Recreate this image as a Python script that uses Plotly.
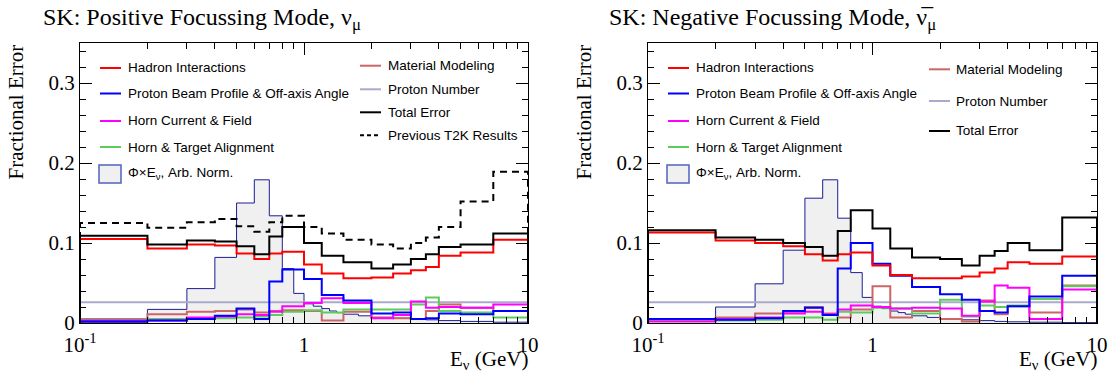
import plotly.graph_objects as go

# ---------------- data ----------------
EDGES = [0.1, 0.2, 0.3, 0.4, 0.5, 0.6, 0.7, 0.8, 1.0, 1.2, 1.5, 2.0, 2.5, 3.0, 3.5, 4.0, 5.0, 7.0, 10.0]
FLUX_EDGES = [0.1, 0.2, 0.3, 0.4, 0.5, 0.6, 0.7, 0.8, 0.9, 1.0, 1.1, 1.2, 1.3, 1.4, 1.5, 1.75, 2.0,
              2.5, 3.0, 3.5, 4.0, 5.0, 7.0, 10.0]

# Positive focussing mode (nu_mu)
POS_HADRON = [0.105, 0.093, 0.098, 0.097, 0.087, 0.080, 0.087, 0.089, 0.073, 0.062, 0.056, 0.057, 0.062, 0.066, 0.070, 0.084, 0.088, 0.104]
POS_BEAM = [0.002, 0.003, 0.005, 0.009, 0.018, 0.005, 0.052, 0.067, 0.055, 0.035, 0.028, 0.012, 0.013, 0.005, 0.006, 0.012, 0.011, 0.015]
POS_HORN = [0.003, 0.003, 0.007, 0.008, 0.011, 0.010, 0.014, 0.021, 0.025, 0.031, 0.025, 0.006, 0.010, 0.027, 0.019, 0.020, 0.019, 0.023]
POS_ALIGN = [0.004, 0.005, 0.006, 0.006, 0.007, 0.008, 0.010, 0.014, 0.016, 0.013, 0.017, 0.017, 0.017, 0.023, 0.032, 0.015, 0.013, 0.007]
POS_MATERIAL = [0.005, 0.011, 0.014, 0.015, 0.017, 0.013, 0.015, 0.016, 0.015, 0.003, 0.014, 0.007, 0.006, 0.005, 0.015, 0.023, 0.019, 0.015]
POS_PROTON = [0.026, 0.026, 0.026, 0.026, 0.026, 0.026, 0.026, 0.026, 0.026, 0.026, 0.026, 0.026, 0.026, 0.026, 0.026, 0.026, 0.026, 0.026]
POS_TOTAL = [0.109, 0.098, 0.103, 0.102, 0.096, 0.086, 0.108, 0.120, 0.100, 0.084, 0.076, 0.068, 0.073, 0.080, 0.086, 0.095, 0.098, 0.112]
POS_PREVIOUS = [0.125, 0.119, 0.126, 0.130, 0.121, 0.114, 0.126, 0.134, 0.120, 0.112, 0.104, 0.098, 0.093, 0.100, 0.107, 0.120, 0.152, 0.189]
POS_FLUX = [0.001, 0.017, 0.043, 0.082, 0.150, 0.179, 0.134, 0.068, 0.037, 0.024, 0.021, 0.018, 0.015, 0.013, 0.011,
            0.009, 0.007, 0.006, 0.005, 0.004, 0.003, 0.002, 0.001]

# Negative focussing mode (anti nu_mu)
NEG_HADRON = [0.113, 0.103, 0.100, 0.096, 0.086, 0.078, 0.086, 0.088, 0.072, 0.060, 0.056, 0.056, 0.058, 0.063, 0.068, 0.076, 0.074, 0.083]
NEG_BEAM = [0.005, 0.004, 0.006, 0.015, 0.019, 0.010, 0.068, 0.100, 0.074, 0.059, 0.045, 0.036, 0.029, 0.015, 0.013, 0.021, 0.033, 0.059]
NEG_HORN = [0.002, 0.005, 0.007, 0.012, 0.014, 0.011, 0.017, 0.022, 0.020, 0.018, 0.019, 0.018, 0.009, 0.027, 0.047, 0.044, 0.005, 0.042]
NEG_ALIGN = [0.004, 0.003, 0.004, 0.007, 0.007, 0.004, 0.014, 0.013, 0.019, 0.018, 0.012, 0.029, 0.008, 0.022, 0.020, 0.022, 0.030, 0.046]
NEG_MATERIAL = [0.003, 0.007, 0.012, 0.014, 0.020, 0.012, 0.007, 0.017, 0.046, 0.007, 0.015, 0.005, 0.002, 0.028, 0.011, 0.021, 0.013, 0.047]
NEG_PROTON = [0.026, 0.026, 0.026, 0.026, 0.026, 0.026, 0.026, 0.026, 0.026, 0.026, 0.026, 0.026, 0.026, 0.026, 0.026, 0.026, 0.026, 0.026]
NEG_TOTAL = [0.116, 0.107, 0.104, 0.100, 0.095, 0.084, 0.115, 0.141, 0.118, 0.093, 0.082, 0.080, 0.072, 0.084, 0.090, 0.100, 0.091, 0.132]
NEG_FLUX = [0.005, 0.020, 0.049, 0.091, 0.156, 0.179, 0.131, 0.063, 0.032, 0.021, 0.018, 0.015, 0.013, 0.011, 0.009,
            0.007, 0.005, 0.004, 0.003, 0.002, 0.0015, 0.001, 0.0005]

X_TICKS = [0.1, 1, 10]
X_TICK_TEXT = ["10<sup>-1</sup>", "1", "10"]
X_MINOR = [0.2, 0.3, 0.4, 0.5, 0.6, 0.7, 0.8, 0.9, 2, 3, 4, 5, 6, 7, 8, 9]
Y_TICKS = [0, 0.1, 0.2, 0.3]
Y_TICK_TEXT = ["0", "0.1", "0.2", "0.3"]

TITLES = ["SK: Positive Focussing Mode, ν<sub>μ</sub>", "SK: Negative Focussing Mode, ν\u0305<sub>μ</sub>"]

# ---------------- style ----------------
W, H = 1110, 377
C_HADRON = "#ff0000"
C_BEAM = "#0000ff"
C_HORN = "#ff00ff"
C_ALIGN = "#5ccc5c"
C_MAT = "#cc6666"
C_PROTON = "#aaaacc"
C_TOTAL = "#000000"
C_FLUXLINE = "#1c1c96"
C_FLUXFILL = "#f0f0f0"
SERIF = "Liberation Serif, Times New Roman, serif"
SANS = "Liberation Sans, Arial, sans-serif"
LEG_SIZE = 13.5

PANEL_X = [(80, 528), (648, 1097)]
PLOT_TOP, PLOT_BOT = 43, 323


def px(x):
    return x / W


def py(y):
    return 1 - y / H


def step(edges, vals):
    xs = [edges[0]] + list(edges) + [edges[-1]]
    ys = [0] + list(vals) + [vals[-1], 0]
    return xs, ys


fig = go.Figure()

panels = [
    dict(flux=POS_FLUX, series=[
        (POS_PROTON, C_PROTON, "solid"), (POS_MATERIAL, C_MAT, "solid"), (POS_ALIGN, C_ALIGN, "solid"),
        (POS_HORN, C_HORN, "solid"), (POS_BEAM, C_BEAM, "solid"), (POS_HADRON, C_HADRON, "solid"),
        (POS_TOTAL, C_TOTAL, "solid"), (POS_PREVIOUS, C_TOTAL, "dash")]),
    dict(flux=NEG_FLUX, series=[
        (NEG_PROTON, C_PROTON, "solid"), (NEG_MATERIAL, C_MAT, "solid"), (NEG_ALIGN, C_ALIGN, "solid"),
        (NEG_HORN, C_HORN, "solid"), (NEG_BEAM, C_BEAM, "solid"), (NEG_HADRON, C_HADRON, "solid"),
        (NEG_TOTAL, C_TOTAL, "solid")]),
]

for i, p in enumerate(panels):
    xa = "x" if i == 0 else "x2"
    ya = "y" if i == 0 else "y2"
    fx, fy = step(FLUX_EDGES, p["flux"])
    fig.add_trace(go.Scatter(x=fx, y=fy, mode="lines", line=dict(shape="hv", color=C_FLUXLINE, width=1),
                             fill="tozeroy", fillcolor=C_FLUXFILL, xaxis=xa, yaxis=ya, showlegend=False,
                             hoverinfo="skip"))
    for vals, col, dash in p["series"]:
        sx, sy = step(EDGES, vals)
        fig.add_trace(go.Scatter(x=sx, y=sy, mode="lines",
                                 line=dict(shape="hv", color=col, width=2, dash=("7px,5px" if dash == "dash" else "solid")),
                                 xaxis=xa, yaxis=ya, showlegend=False, hoverinfo="skip"))

common_x = dict(type="log", range=[-1, 1], showline=True, mirror="allticks", linecolor="black", linewidth=1,
                ticks="inside", ticklen=12, tickwidth=1, tickcolor="black", tickmode="array",
                tickvals=X_TICKS, ticktext=X_TICK_TEXT, tickfont=dict(family=SERIF, size=21, color="black"),
                ticklabelstandoff=3,
                minor=dict(ticks="inside", ticklen=6, tickwidth=1, tickcolor="black", tickmode="array",
                           tickvals=X_MINOR, showgrid=False),
                showgrid=False, zeroline=False, fixedrange=True, automargin=False)
common_y = dict(range=[0, 0.35], showline=True, mirror="allticks", linecolor="black", linewidth=1,
                ticks="inside", ticklen=12, tickwidth=1, tickcolor="black", tickmode="array",
                tickvals=Y_TICKS, ticktext=Y_TICK_TEXT, tickfont=dict(family=SERIF, size=21, color="black"),
                minor=dict(ticks="inside", ticklen=6, tickwidth=1, tickcolor="black", dtick=0.02, tick0=0,
                           showgrid=False),
                showgrid=False, zeroline=False, fixedrange=True, automargin=False,
                domain=[py(PLOT_BOT), py(PLOT_TOP)])

fig.update_layout(
    xaxis=dict(common_x, domain=[px(PANEL_X[0][0]), px(PANEL_X[0][1])], anchor="y"),
    yaxis=dict(common_y, anchor="x"),
    xaxis2=dict(common_x, domain=[px(PANEL_X[1][0]), px(PANEL_X[1][1])], anchor="y2"),
    yaxis2=dict(common_y, anchor="x2"),
)

annotations = []
shapes = []

# titles / axis titles
title_x = [41, 607]
for i in range(2):
    x0, x1 = PANEL_X[i]
    annotations.append(dict(text=TITLES[i], x=px(title_x[i]), y=py(19), xref="paper", yref="paper",
                            xanchor="left", yanchor="middle", showarrow=False,
                            font=dict(family=SERIF, size=24, color="black")))
    annotations.append(dict(text="E<sub>ν</sub> (GeV)", x=px(x1 + 2), y=py(360), xref="paper", yref="paper",
                            xanchor="right", yanchor="middle", showarrow=False,
                            font=dict(family=SERIF, size=21, color="black")))
    annotations.append(dict(text="Fractional Error", x=px(x0 - 64), y=py(PLOT_TOP), xref="paper", yref="paper",
                            xanchor="center", yanchor="top", textangle=-90, showarrow=False,
                            font=dict(family=SERIF, size=21, color="black")))

# legends
LEG = [
    dict(col1=(100, 121, 126), col1_y=[68, 93.5, 121, 147], box_y=(165, 183, 173),
         col2=(360, 381, 386), col2_y=[65.7, 89.3, 112.3, 135.3],
         col2_items=[("Material Modeling", C_MAT, "solid"), ("Proton Number", C_PROTON, "solid"),
                     ("Total Error", C_TOTAL, "solid"), ("Previous T2K Results", C_TOTAL, "dash")]),
    dict(col1=(668, 689, 694), col1_y=[68, 93.5, 121, 147], box_y=(165, 183, 173),
         col2=(929, 950, 954), col2_y=[69.3, 101, 131],
         col2_items=[("Material Modeling", C_MAT, "solid"), ("Proton Number", C_PROTON, "solid"),
                     ("Total Error", C_TOTAL, "solid")]),
]
col1_items = [("Hadron Interactions", C_HADRON), ("Proton Beam Profile &amp; Off-axis Angle", C_BEAM),
              ("Horn Current &amp; Field", C_HORN), ("Horn &amp; Target Alignment", C_ALIGN)]

for L in LEG:
    a, b, t = L["col1"]
    for (txt, col), yy in zip(col1_items, L["col1_y"]):
        shapes.append(dict(type="line", xref="paper", yref="paper", x0=px(a), x1=px(b), y0=py(yy), y1=py(yy),
                           line=dict(color=col, width=2)))
        annotations.append(dict(text=txt, x=px(t), y=py(yy), xref="paper", yref="paper", xanchor="left",
                                yanchor="middle", showarrow=False,
                                font=dict(family=SANS, size=LEG_SIZE, color="black")))
    by0, by1, byt = L["box_y"]
    shapes.append(dict(type="rect", xref="paper", yref="paper", x0=px(a - 1), x1=px(b), y0=py(by1), y1=py(by0),
                       line=dict(color="#5060c0", width=1.5), fillcolor=C_FLUXFILL))
    annotations.append(dict(text="Φ×E<sub>ν</sub>, Arb. Norm.", x=px(t), y=py(byt), xref="paper", yref="paper",
                            xanchor="left", yanchor="middle", showarrow=False,
                            font=dict(family=SANS, size=LEG_SIZE, color="black")))
    a, b, t = L["col2"]
    for (txt, col, dash), yy in zip(L["col2_items"], L["col2_y"]):
        shapes.append(dict(type="line", xref="paper", yref="paper", x0=px(a), x1=px(b), y0=py(yy), y1=py(yy),
                           line=dict(color=col, width=2, dash=("4px,3px" if dash == "dash" else "solid"))))
        annotations.append(dict(text=txt, x=px(t), y=py(yy), xref="paper", yref="paper", xanchor="left",
                                yanchor="middle", showarrow=False,
                                font=dict(family=SANS, size=LEG_SIZE, color="black")))

fig.update_layout(width=W, height=H, margin=dict(l=0, r=0, t=0, b=0, pad=0), paper_bgcolor="white",
                  plot_bgcolor="white", showlegend=False, annotations=annotations, shapes=shapes)

fig.write_html("out.html", config={"displayModeBar": False, "staticPlot": True},
               post_script="document.body.style.margin='0';document.body.style.overflow='hidden';")
